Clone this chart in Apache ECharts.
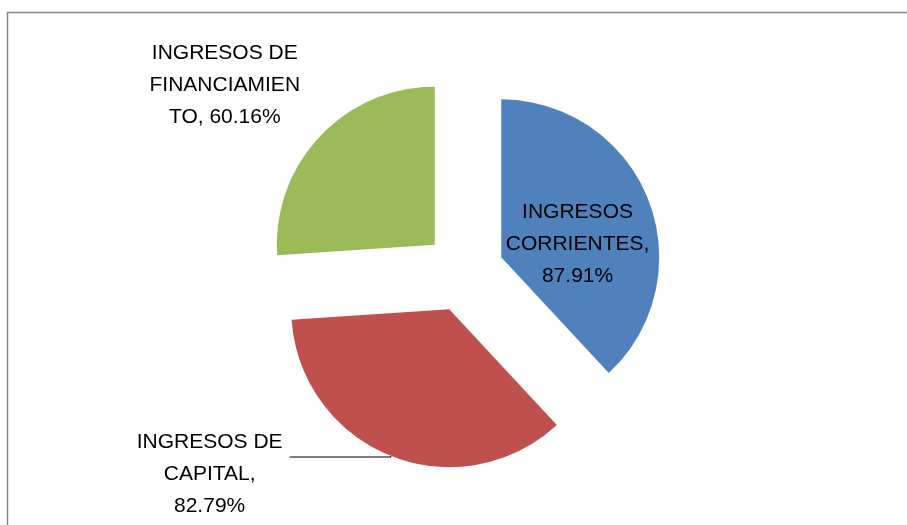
<!DOCTYPE html>
<html><head><meta charset="utf-8">
<script src="https://cdn.jsdelivr.net/npm/echarts@6/dist/echarts.min.js"></script>
<style>html,body{margin:0;padding:0;background:#fff}#c{width:907px;height:525px}</style>
</head><body><div id="c"></div>
<script>
const categories = ['INGRESOS CORRIENTES', 'INGRESOS DE CAPITAL', 'INGRESOS DE FINANCIAMIENTO'];
const values = [87.91, 82.79, 60.16];
const labelLines = [['INGRESOS', 'CORRIENTES,', '87.91%'], ['INGRESOS DE', 'CAPITAL,', '82.79%'], ['INGRESOS DE', 'FINANCIAMIEN', 'TO, 60.16%']];
const colors = ['#4F81BD', '#C0504D', '#9BBB59'];

const chart = echarts.init(document.getElementById('c'), null, {renderer: 'canvas'});
const txt = {fontFamily: 'Liberation Sans', fontSize: 21, lineHeight: 32, color: '#000'};
const labelCfg = [
  {position: 'inside', padding: [34, 0, 0, 0], width: 150},
  {position: 'outside', padding: [34, 0, 0, 0], width: 150},
  {position: 'outside', alignTo: 'edge', edgeDistance: 176, width: 156}
];
const lineCfg = [
  {show: false},
  {show: true, length: 1, length2: 101, lineStyle: {color: '#000', width: 1.2}},
  {show: false, length: 76, length2: 5}
];
chart.setOption({
  animation: false,
  graphic: [{
    type: 'rect', silent: true,
    shape: {x: 7.5, y: 12.5, width: 1000, height: 700},
    style: {fill: 'none', stroke: '#868686', lineWidth: 1.5}
  }],
  series: [{
    type: 'pie',
    center: [464, 272],
    radius: [0, 158],
    startAngle: 90,
    clockwise: true,
    selectedMode: 'multiple',
    selectedOffset: 40,
    avoidLabelOverlap: false,
    emphasis: {disabled: true},
    itemStyle: {borderWidth: 0},
    data: categories.map((n, i) => ({
      name: n, value: values[i], selected: true,
      itemStyle: {color: colors[i]},
      label: Object.assign({
        show: true,
        position: labelCfg[i].position,
        alignTo: labelCfg[i].alignTo || 'none',
        edgeDistance: labelCfg[i].edgeDistance || 0,
        padding: labelCfg[i].padding || 0,
        formatter: labelLines[i].map(s => '{c|' + s + '}').join('\n'),
        rich: {c: Object.assign({width: labelCfg[i].width, align: 'center'}, txt)}
      }, txt),
      labelLine: lineCfg[i]
    }))
  }]
});
</script></body></html>
